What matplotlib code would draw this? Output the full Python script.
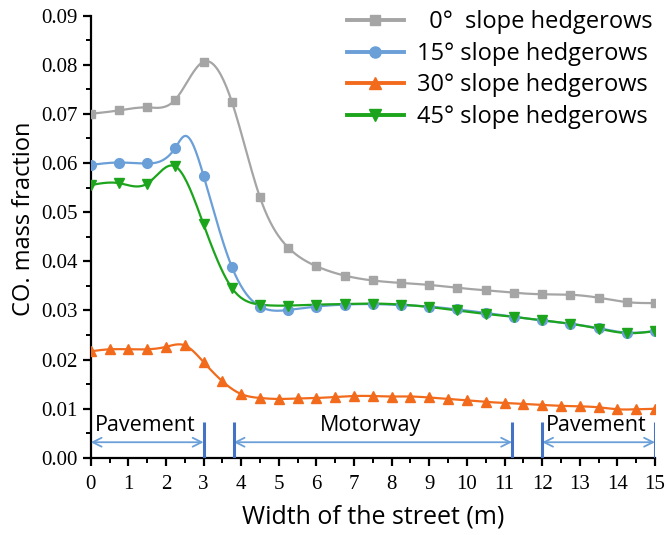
import numpy as np
import matplotlib
matplotlib.use("Agg")
import matplotlib.pyplot as plt
from matplotlib.ticker import MultipleLocator, FormatStrFormatter

# CO mass fraction across the street section for each hedgerow slope
x_075 = [0, 0.75, 1.5, 2.25, 3, 3.75, 4.5, 5.25, 6, 6.75, 7.5, 8.25, 9, 9.75,
         10.5, 11.25, 12, 12.75, 13.5, 14.25, 15]
x_05 = [0, 0.5, 1, 1.5, 2, 2.5, 3, 3.5, 4, 4.5, 5, 5.5, 6, 6.5, 7, 7.5, 8,
        8.5, 9, 9.5, 10, 10.5, 11, 11.5, 12, 12.5, 13, 13.5, 14, 14.5, 15]

co_0 = [0.0700, 0.0707, 0.0713, 0.0729, 0.0806, 0.0725, 0.0530, 0.0428, 0.0390,
        0.0371, 0.0361, 0.0356, 0.0352, 0.0346, 0.0341, 0.0336, 0.0333, 0.0332,
        0.0326, 0.0317, 0.0315]
co_15 = [0.0596, 0.0601, 0.0599, 0.0631, 0.0574, 0.0389, 0.0308, 0.0301, 0.0308,
         0.0312, 0.0313, 0.0311, 0.0308, 0.0302, 0.0295, 0.0287, 0.0280, 0.0273,
         0.0264, 0.0255, 0.0258]
co_30 = [0.0217, 0.0221, 0.0221, 0.0221, 0.0226, 0.0229, 0.0195, 0.0156, 0.0130,
         0.0122, 0.0120, 0.0121, 0.0122, 0.0124, 0.0126, 0.0126, 0.0125, 0.0125,
         0.0123, 0.0120, 0.0117, 0.0114, 0.0112, 0.0110, 0.0108, 0.0106, 0.0105,
         0.0103, 0.0099, 0.0099, 0.0100]
co_45 = [0.0555, 0.0559, 0.0558, 0.0593, 0.0475, 0.0346, 0.0312, 0.0310, 0.0312,
         0.0313, 0.0314, 0.0312, 0.0307, 0.0300, 0.0293, 0.0287, 0.0280, 0.0273,
         0.0263, 0.0254, 0.0258]
# unmarked sample on the 15° curve where it peaks
peak_15 = (2.5, 0.0655)

labels = ["  0°  slope hedgerows", "15° slope hedgerows",
          "30° slope hedgerows", "45° slope hedgerows"]

# street zones: (start, end, label)
zones = [(0, 3, "Pavement"), (3.8, 11.2, "Motorway"), (12, 15, "Pavement")]


def spline(x, y, n=400):
    # natural cubic spline, used only to draw a smooth connecting line
    x = np.asarray(x, float)
    y = np.asarray(y, float)
    k = len(x)
    h = np.diff(x)
    A = np.zeros((k, k))
    b = np.zeros(k)
    A[0, 0] = A[-1, -1] = 1
    for i in range(1, k - 1):
        A[i, i - 1] = h[i - 1]
        A[i, i] = 2 * (h[i - 1] + h[i])
        A[i, i + 1] = h[i]
        b[i] = 6 * ((y[i + 1] - y[i]) / h[i] - (y[i] - y[i - 1]) / h[i - 1])
    M = np.linalg.solve(A, b)
    xs = np.linspace(x[0], x[-1], n)
    j = np.clip(np.searchsorted(x, xs) - 1, 0, k - 2)
    t0 = x[j + 1] - xs
    t1 = xs - x[j]
    hj = h[j]
    ys = (M[j] * t0 ** 3 + M[j + 1] * t1 ** 3) / (6 * hj) \
        + (y[j] / hj - M[j] * hj / 6) * t0 + (y[j + 1] / hj - M[j + 1] * hj / 6) * t1
    return xs, ys


# line vertices for the 15° curve include the peak sample
line_x15 = sorted(x_075 + [peak_15[0]])
line_y15 = [dict(zip(x_075, co_15)).get(v, peak_15[1]) for v in line_x15]

fig = plt.figure(figsize=(6.67, 5.35), dpi=100)
ax = fig.add_axes([0.136, 0.144, 0.846, 0.827])

series = [
    (x_075, co_0, x_075, co_0, "#a5a5a5", "s", 6),
    (x_075, co_15, line_x15, line_y15, "#6a9fd8", "o", 7),
    (x_05, co_30, x_05, co_30, "#f26b1d", "^", 7.5),
    (x_075, co_45, x_075, co_45, "#1ca51c", "v", 7.5),
]
for (xv, yv, lx, ly, col, mk, ms), lab in zip(series, labels):
    xs, ys = spline(lx, ly)
    ax.plot(xs, ys, color=col, lw=1.6, zorder=3)
    ax.plot(xv, yv, ls="none", marker=mk, ms=ms, color=col, zorder=4)
    ax.plot([], [], color=col, lw=2.8, marker=mk, ms=ms + 1, label=lab)

# zone arrows and boundary bars
arrow_col = "#6a9fd8"
bar_col = "#4472c4"
for x0, x1, name in zones:
    ax.annotate("", xy=(x1, 0.0032), xytext=(x0, 0.0032),
                arrowprops=dict(arrowstyle="<->", color=arrow_col, lw=1.3,
                                mutation_scale=16, shrinkA=0, shrinkB=0))
    for xb in (x0, x1):
        if xb > 0:
            ax.plot([xb, xb], [0, 0.0074], color=bar_col, lw=2.2,
                    solid_capstyle="butt", zorder=5)
    ax.text((x0 + x1) / 2 - 0.05, 0.0067, name, ha="center", va="center",
            fontsize=15.5, family="Open Sans")

ax.set_xlim(0, 15)
ax.set_ylim(0, 0.09)
ax.xaxis.set_major_locator(MultipleLocator(1))
ax.xaxis.set_minor_locator(MultipleLocator(0.5))
ax.yaxis.set_major_locator(MultipleLocator(0.01))
ax.yaxis.set_minor_locator(MultipleLocator(0.005))
ax.yaxis.set_major_formatter(FormatStrFormatter("%.2f"))
for s in ("top", "right"):
    ax.spines[s].set_visible(False)
for s in ("left", "bottom"):
    ax.spines[s].set_linewidth(1.6)
ax.tick_params(which="major", direction="out", length=6, width=1.6)
ax.tick_params(which="minor", direction="out", length=3.5, width=1.4)
for t in ax.get_xticklabels() + ax.get_yticklabels():
    t.set_family("Liberation Serif")
    t.set_fontsize(15)
ax.tick_params(axis="x", pad=6)

ax.set_xlabel("Width of the street (m)", fontsize=18, family="Open Sans", labelpad=8)
ax.set_ylabel("CO. mass fraction", fontsize=17, family="Open Sans")
ax.yaxis.set_label_coords(-0.097, 0.54)

ax.legend(loc="upper right", bbox_to_anchor=(1.033, 1.06), frameon=False,
          prop={"family": "Open Sans", "size": 17}, handlelength=2.4,
          labelspacing=0.32, handletextpad=0.55)

fig.savefig("out.png", dpi=100)
